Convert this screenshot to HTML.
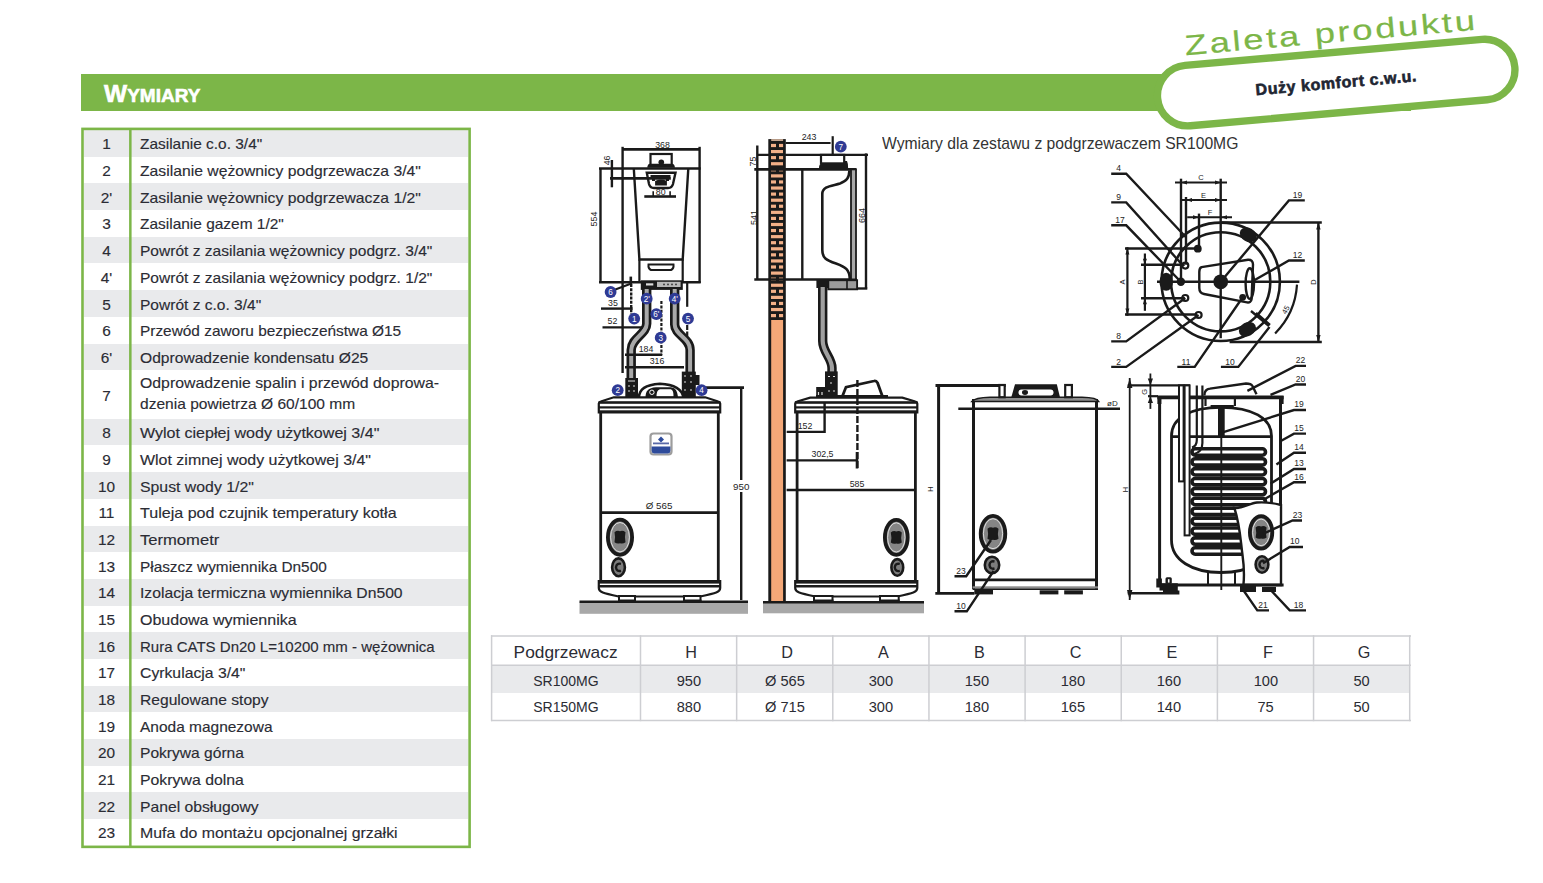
<!DOCTYPE html>
<html><head><meta charset="utf-8">
<style>
html,body{margin:0;padding:0;}
body{width:1543px;height:883px;overflow:hidden;background:#fff;position:relative;font-family:"Liberation Sans",sans-serif;color:#2b2c34;}
.bar{position:absolute;left:81px;top:73.8px;width:1330px;height:37.6px;background:#7cb648;}
.bar .tt{position:absolute;left:23px;top:6.3px;color:#fff;font-weight:bold;font-size:24.5px;letter-spacing:0px;white-space:nowrap;-webkit-text-stroke:0.6px #fff;}
.bar .tt small{font-size:19px;}
.lt{position:absolute;left:81.2px;top:127.7px;width:389.7px;height:720.3px;box-sizing:border-box;border:2.6px solid #7cb648;}
.dv{position:absolute;left:129.1px;top:128px;width:2.5px;height:719px;background:#7cb648;}
.r{position:absolute;left:83.8px;width:384.5px;-webkit-text-stroke:0.15px #2b2c34;}
.r.g{background:#e9eaec;}
.r .n{position:absolute;left:0;width:45.3px;top:50%;transform:translateY(-50%);text-align:center;font-size:15.4px;line-height:21px;}
.r .t{position:absolute;left:56.3px;top:50%;font-size:15px;line-height:21px;white-space:nowrap;transform-origin:0 50%;}
.r .t2{position:absolute;left:56.3px;font-size:15px;line-height:21px;white-space:nowrap;transform-origin:0 0;margin-top:-8px;}
.bg{position:absolute;background:#e9eaec;}
.vl{position:absolute;top:635.2px;width:1.5px;height:86px;background:#cdced2;}
.hl{position:absolute;left:491px;width:920px;height:1.5px;background:#cdced2;}
.c{position:absolute;text-align:center;white-space:nowrap;line-height:20px;}
.c.h{font-size:16.2px;}
.c.d{font-size:15.4px;}
.c span{display:inline-block;}
svg.d{position:absolute;left:0;top:0;}
.ttl{position:absolute;left:881.8px;top:134px;font-size:17px;line-height:20px;white-space:nowrap;transform-origin:0 0;transform:scaleX(0.9226);color:#333;}
</style></head><body>
<div class="bar"><div class="tt">W<small>YMIARY</small></div></div>
<div class="ttl">Wymiary dla zestawu z podgrzewaczem SR100MG</div>
<svg class="pill" width="1543" height="160" viewBox="0 0 1543 160" style="position:absolute;left:0;top:0" font-family="Liberation Sans, sans-serif">
<g transform="translate(1336.2,82.6) rotate(-5)">
<rect x="-179.3" y="-30.3" width="358.6" height="60.6" rx="30.3" fill="#fff" stroke="#7cb648" stroke-width="7.4"/>
<text x="0" y="5.6" text-anchor="middle" font-size="16" font-weight="bold" letter-spacing="0.6" fill="#202532" stroke="#202532" stroke-width="0.6">Duży komfort c.w.u.</text>
<text x="-147.7" y="-40.5" font-size="28" fill="#7cb648" stroke="#7cb648" stroke-width="0.2" transform="translate(-147.7,0) scale(1.3,1) translate(147.7,0)" letter-spacing="2.1">Zaleta produktu</text>
</g></svg>
<div class="r g" style="top:130.10px;height:26.68px"><div class="n">1</div><div class="t" style="transform:translateY(-50%) scaleX(1.0293)">Zasilanie c.o. 3/4"</div></div>
<div class="r w" style="top:156.78px;height:26.68px"><div class="n">2</div><div class="t" style="transform:translateY(-50%) scaleX(1.0483)">Zasilanie wężownicy podgrzewacza 3/4"</div></div>
<div class="r g" style="top:183.46px;height:26.68px"><div class="n">2'</div><div class="t" style="transform:translateY(-50%) scaleX(1.0483)">Zasilanie wężownicy podgrzewacza 1/2"</div></div>
<div class="r w" style="top:210.14px;height:26.68px"><div class="n">3</div><div class="t" style="transform:translateY(-50%) scaleX(1.0302)">Zasilanie gazem 1/2"</div></div>
<div class="r g" style="top:236.82px;height:26.68px"><div class="n">4</div><div class="t" style="transform:translateY(-50%) scaleX(1.0364)">Powrót z zasilania wężownicy podgrz. 3/4"</div></div>
<div class="r w" style="top:263.50px;height:26.68px"><div class="n">4'</div><div class="t" style="transform:translateY(-50%) scaleX(1.0364)">Powrót z zasilania wężownicy podgrz. 1/2"</div></div>
<div class="r g" style="top:290.18px;height:26.68px"><div class="n">5</div><div class="t" style="transform:translateY(-50%) scaleX(1.0355)">Powrót z c.o. 3/4"</div></div>
<div class="r w" style="top:316.86px;height:26.68px"><div class="n">6</div><div class="t" style="transform:translateY(-50%) scaleX(1.0271)">Przewód zaworu bezpieczeństwa Ø15</div></div>
<div class="r g" style="top:343.54px;height:26.68px"><div class="n">6'</div><div class="t" style="transform:translateY(-50%) scaleX(1.0409)">Odprowadzenie kondensatu Ø25</div></div>
<div class="r w" style="top:370.22px;height:48.60px"><div class="n">7</div><div class="t2" style="top:10px;transform:scaleX(1.0547)">Odprowadzenie spalin i przewód doprowa-</div><div class="t2" style="top:31px;transform:scaleX(1.0366)">dzenia powietrza Ø 60/100 mm</div></div>
<div class="r g" style="top:418.82px;height:26.68px"><div class="n">8</div><div class="t" style="transform:translateY(-50%) scaleX(1.0705)">Wylot ciepłej wody użytkowej 3/4"</div></div>
<div class="r w" style="top:445.50px;height:26.68px"><div class="n">9</div><div class="t" style="transform:translateY(-50%) scaleX(1.0641)">Wlot zimnej wody użytkowej 3/4"</div></div>
<div class="r g" style="top:472.18px;height:26.68px"><div class="n">10</div><div class="t" style="transform:translateY(-50%) scaleX(1.0548)">Spust wody 1/2"</div></div>
<div class="r w" style="top:498.86px;height:26.68px"><div class="n">11</div><div class="t" style="transform:translateY(-50%) scaleX(1.0711)">Tuleja pod czujnik temperatury kotła</div></div>
<div class="r g" style="top:525.54px;height:26.68px"><div class="n">12</div><div class="t" style="transform:translateY(-50%) scaleX(1.1062)">Termometr</div></div>
<div class="r w" style="top:552.22px;height:26.68px"><div class="n">13</div><div class="t" style="transform:translateY(-50%) scaleX(1.0226)">Płaszcz wymiennika Dn500</div></div>
<div class="r g" style="top:578.90px;height:26.68px"><div class="n">14</div><div class="t" style="transform:translateY(-50%) scaleX(1.0464)">Izolacja termiczna wymiennika Dn500</div></div>
<div class="r w" style="top:605.58px;height:26.68px"><div class="n">15</div><div class="t" style="transform:translateY(-50%) scaleX(1.0671)">Obudowa wymiennika</div></div>
<div class="r g" style="top:632.26px;height:26.68px"><div class="n">16</div><div class="t" style="transform:translateY(-50%) scaleX(1.0006)">Rura CATS Dn20 L=10200 mm - wężownica</div></div>
<div class="r w" style="top:658.94px;height:26.68px"><div class="n">17</div><div class="t" style="transform:translateY(-50%) scaleX(1.0501)">Cyrkulacja 3/4"</div></div>
<div class="r g" style="top:685.62px;height:26.68px"><div class="n">18</div><div class="t" style="transform:translateY(-50%) scaleX(1.042)">Regulowane stopy</div></div>
<div class="r w" style="top:712.30px;height:26.68px"><div class="n">19</div><div class="t" style="transform:translateY(-50%) scaleX(1.0316)">Anoda magnezowa</div></div>
<div class="r g" style="top:738.98px;height:26.68px"><div class="n">20</div><div class="t" style="transform:translateY(-50%) scaleX(1.0384)">Pokrywa górna</div></div>
<div class="r w" style="top:765.66px;height:26.68px"><div class="n">21</div><div class="t" style="transform:translateY(-50%) scaleX(1.056)">Pokrywa dolna</div></div>
<div class="r g" style="top:792.34px;height:26.68px"><div class="n">22</div><div class="t" style="transform:translateY(-50%) scaleX(1.0465)">Panel obsługowy</div></div>
<div class="r w" style="top:819.02px;height:26.68px"><div class="n">23</div><div class="t" style="transform:translateY(-50%) scaleX(1.058)">Mufa do montażu opcjonalnej grzałki</div></div>
<div class="bg" style="left:491.6px;top:665.5px;width:918.8px;height:27.2px"></div>
<div class="c h" style="left:491.60px;width:148.90px;top:642.4px"><span style="transform:scaleX(1.07)">Podgrzewacz</span></div>
<div class="c d" style="left:491.60px;width:148.90px;top:670.9px"><span style="transform:scaleX(0.91)">SR100MG</span></div>
<div class="c d" style="left:491.60px;width:148.90px;top:696.8px"><span style="transform:scaleX(0.91)">SR150MG</span></div>
<div class="c h" style="left:643.00px;width:96.15px;top:642.4px"><span style="transform:scaleX(1.0)">H</span></div>
<div class="c d" style="left:640.50px;width:96.15px;top:670.9px"><span style="transform:scaleX(0.95)">950</span></div>
<div class="c d" style="left:640.50px;width:96.15px;top:696.8px"><span style="transform:scaleX(0.95)">880</span></div>
<div class="c h" style="left:739.15px;width:96.15px;top:642.4px"><span style="transform:scaleX(1.0)">D</span></div>
<div class="c d" style="left:736.65px;width:96.15px;top:670.9px"><span style="transform:scaleX(0.95)">Ø 565</span></div>
<div class="c d" style="left:736.65px;width:96.15px;top:696.8px"><span style="transform:scaleX(0.95)">Ø 715</span></div>
<div class="c h" style="left:835.30px;width:96.15px;top:642.4px"><span style="transform:scaleX(1.0)">A</span></div>
<div class="c d" style="left:832.80px;width:96.15px;top:670.9px"><span style="transform:scaleX(0.95)">300</span></div>
<div class="c d" style="left:832.80px;width:96.15px;top:696.8px"><span style="transform:scaleX(0.95)">300</span></div>
<div class="c h" style="left:931.45px;width:96.15px;top:642.4px"><span style="transform:scaleX(1.0)">B</span></div>
<div class="c d" style="left:928.95px;width:96.15px;top:670.9px"><span style="transform:scaleX(0.95)">150</span></div>
<div class="c d" style="left:928.95px;width:96.15px;top:696.8px"><span style="transform:scaleX(0.95)">180</span></div>
<div class="c h" style="left:1027.60px;width:96.15px;top:642.4px"><span style="transform:scaleX(1.0)">C</span></div>
<div class="c d" style="left:1025.10px;width:96.15px;top:670.9px"><span style="transform:scaleX(0.95)">180</span></div>
<div class="c d" style="left:1025.10px;width:96.15px;top:696.8px"><span style="transform:scaleX(0.95)">165</span></div>
<div class="c h" style="left:1123.75px;width:96.15px;top:642.4px"><span style="transform:scaleX(1.0)">E</span></div>
<div class="c d" style="left:1121.25px;width:96.15px;top:670.9px"><span style="transform:scaleX(0.95)">160</span></div>
<div class="c d" style="left:1121.25px;width:96.15px;top:696.8px"><span style="transform:scaleX(0.95)">140</span></div>
<div class="c h" style="left:1219.90px;width:96.15px;top:642.4px"><span style="transform:scaleX(1.0)">F</span></div>
<div class="c d" style="left:1217.40px;width:96.15px;top:670.9px"><span style="transform:scaleX(0.95)">100</span></div>
<div class="c d" style="left:1217.40px;width:96.15px;top:696.8px"><span style="transform:scaleX(0.95)">75</span></div>
<div class="c h" style="left:1316.05px;width:96.15px;top:642.4px"><span style="transform:scaleX(1.0)">G</span></div>
<div class="c d" style="left:1313.55px;width:96.15px;top:670.9px"><span style="transform:scaleX(0.95)">50</span></div>
<div class="c d" style="left:1313.55px;width:96.15px;top:696.8px"><span style="transform:scaleX(0.95)">50</span></div>
<svg class="d" width="1543" height="883" viewBox="0 0 1543 883" font-family="Liberation Sans, sans-serif">
<line x1="622.6" y1="149.4" x2="699.6" y2="149.4" stroke="#1a1a1a" stroke-width="2.8" />
<text x="662.5" y="148.3" font-size="8.8" text-anchor="middle" fill="#242424" >368</text>
<line x1="622.6" y1="146.8" x2="622.6" y2="373" stroke="#1a1a1a" stroke-width="2.4" />
<line x1="699.6" y1="146.8" x2="699.6" y2="283" stroke="#1a1a1a" stroke-width="2.4" />
<line x1="599" y1="168.5" x2="700.7" y2="168.5" stroke="#1a1a1a" stroke-width="2.6" />
<line x1="600.5" y1="168.5" x2="600.5" y2="283" stroke="#1a1a1a" stroke-width="2.4" />
<line x1="599" y1="282.3" x2="700.7" y2="282.3" stroke="#1a1a1a" stroke-width="2.4" />
<path d="M633.8,168.5 L639.4,259.5 L682.7,259.5 L688.3,168.5" fill="none" stroke="#1a1a1a" stroke-width="2.4" />
<line x1="639.4" y1="259.5" x2="639.4" y2="282.3" stroke="#1a1a1a" stroke-width="2.2" />
<line x1="682.7" y1="259.5" x2="682.7" y2="282.3" stroke="#1a1a1a" stroke-width="2.2" />
<path d="M648.5,264.5 h25 q0.5,4 -2.5,5.5 h-20 q-3,-1.5 -2.5,-5.5z" fill="#fff" stroke="#1a1a1a" stroke-width="2" />
<rect x="650.5" y="154" width="21.2" height="11.5" fill="#fff" stroke="#1a1a1a" stroke-width="2.2" />
<path d="M647.3,167.8 Q647.3,164 650,163.7 L672,163.7 Q674.9,164 674.9,167.8z" fill="#1a1a1a" stroke="#1a1a1a" stroke-width="0" />
<circle cx="661.3" cy="162.2" r="2.8" fill="#1a1a1a"/>
<path d="M646.8,172.8 L675.5,172.8 L673,184 Q672,188 668,188 L654,188 Q650,188 649,184z" fill="#fff" stroke="#1a1a1a" stroke-width="2.4" />
<path d="M650.5,176 h20 M652,180 h3 M666,180 h3 M656,181.5 q5,-2 10,0 v3 h-10z" fill="#1a1a1a" stroke="#1a1a1a" stroke-width="1.8" />
<line x1="611.9" y1="160" x2="611.9" y2="187.3" stroke="#1a1a1a" stroke-width="2.4" />
<line x1="610" y1="178.4" x2="670.8" y2="178.4" stroke="#1a1a1a" stroke-width="2.6" />
<text x="610.5" y="160.4" font-size="8.8" text-anchor="middle" fill="#242424" transform="rotate(-90 610.5 160.4)" >46</text>
<line x1="644.3" y1="196.5" x2="676" y2="196.5" stroke="#1a1a1a" stroke-width="2.6" />
<line x1="653.2" y1="191.3" x2="653.2" y2="196.5" stroke="#1a1a1a" stroke-width="1.6" />
<line x1="670.1" y1="191.3" x2="670.1" y2="196.5" stroke="#1a1a1a" stroke-width="1.6" />
<text x="660.7" y="194.6" font-size="8.8" text-anchor="middle" fill="#242424" >80</text>
<text x="596.8" y="219" font-size="9" text-anchor="middle" fill="#242424" transform="rotate(-90 596.8 219)" >554</text>
<rect x="640.8" y="280.3" width="42" height="9.6" fill="#1a1a1a" />
<rect x="657" y="281.8" width="23.6" height="5.2" fill="#b8b8b8" />
<rect x="646" y="283.3" width="7.3" height="2.2" fill="#ddd" />
<circle cx="664" cy="284.4" r="0.9" fill="#333"/>
<circle cx="668" cy="284.4" r="0.9" fill="#333"/>
<circle cx="672" cy="284.4" r="0.9" fill="#333"/>
<circle cx="676" cy="284.4" r="0.9" fill="#333"/>
<rect x="629.5" y="276.6" width="2.6" height="8" fill="#1a1a1a" />
<line x1="631.2" y1="284" x2="631.2" y2="314" stroke="#1a1a1a" stroke-width="2.4" stroke-dasharray="3 1.2"/>
<line x1="614" y1="290" x2="630" y2="284" stroke="#1a1a1a" stroke-width="2" />
<line x1="687.2" y1="283" x2="687.2" y2="306.8" stroke="#1a1a1a" stroke-width="2.2" />
<line x1="687.2" y1="325" x2="687.2" y2="372" stroke="#1a1a1a" stroke-width="2.2" stroke-dasharray="5 1.5"/>
<line x1="661.4" y1="301" x2="661.4" y2="355.4" stroke="#1a1a1a" stroke-width="2.2" stroke-dasharray="3 1.4"/>
<path d="M646.7,289 L646.7,323.8 C646.7,334 631.2,338 631.2,350 L631.2,380" fill="none" stroke="#1a1a1a" stroke-width="9.4" />
<path d="M646.7,289 L646.7,323.8 C646.7,334 631.2,338 631.2,350 L631.2,380" fill="none" stroke="#a9a9a9" stroke-width="4" />
<path d="M674.7,289 L674.7,324.5 C674.7,335 690.1,338 690.1,350 L690.1,373" fill="none" stroke="#1a1a1a" stroke-width="9.4" />
<path d="M674.7,289 L674.7,324.5 C674.7,335 690.1,338 690.1,350 L690.1,373" fill="none" stroke="#a9a9a9" stroke-width="4" />
<rect x="625.3" y="378" width="12.7" height="19.7" fill="#1a1a1a" />
<path d="M628,381 h7 M628,386 h2 M633,386 h2 M628,391 h2 M633,391 h2" fill="none" stroke="#ddd" stroke-width="1.2" />
<rect x="681.8" y="371.6" width="14" height="26" fill="#1a1a1a" />
<rect x="695" y="375" width="4.5" height="10" fill="#1a1a1a" />
<path d="M684,376 h2 M690,376 h2 M684,382 h2 M690,382 h2 M684,390 h2 M690,390 h2" fill="none" stroke="#ddd" stroke-width="1.2" />
<line x1="601" y1="308.6" x2="632.7" y2="308.6" stroke="#1a1a1a" stroke-width="2.4" />
<text x="613" y="305.5" font-size="8.8" text-anchor="middle" fill="#242424" >35</text>
<line x1="602.5" y1="327.4" x2="643" y2="327.4" stroke="#1a1a1a" stroke-width="2.4" />
<text x="612.5" y="324.3" font-size="8.8" text-anchor="middle" fill="#242424" >52</text>
<line x1="625" y1="354.7" x2="662" y2="354.7" stroke="#1a1a1a" stroke-width="2.4" />
<text x="646" y="351.6" font-size="8.8" text-anchor="middle" fill="#242424" >184</text>
<line x1="625" y1="367.2" x2="684" y2="367.2" stroke="#1a1a1a" stroke-width="2.4" />
<text x="657" y="364.1" font-size="8.8" text-anchor="middle" fill="#242424" >316</text>
<path d="M638.8,397.7 C639.5,389 645,385 660,383.8 C675,384.5 682,389 683.5,397.7" fill="#fff" stroke="#1a1a1a" stroke-width="2.6" />
<path d="M645.5,397.7 C645.5,391 648,388 656,387.3 L671,387.3 C676,388 677.5,392 678,397.7z" fill="#1a1a1a" stroke="#1a1a1a" stroke-width="0" />
<path d="M656.5,396.5 C656.5,391.5 658,389.3 661,389.3 L670,389.3 C672.5,389.3 673.5,391.5 673.5,396.5z" fill="#fff" stroke="#1a1a1a" stroke-width="0" />
<circle cx="651.9" cy="392.3" r="2.2" fill="none" stroke="#fff" stroke-width="1"/>
<path d="M598.8,412.5 L598.8,403.5 Q598.8,402 600.8,401.5 L613.8,397.3 L705.2,397.3 L718.2,401.5 Q720.2,402 720.2,403.5 L720.2,412.5z" fill="#fff" stroke="#1a1a1a" stroke-width="2.2" />
<rect x="598.8" y="401.2" width="121.40000000000009" height="2.6" fill="#1a1a1a" />
<rect x="598.8" y="406.3" width="121.40000000000009" height="2.2" fill="#1a1a1a" />
<rect x="598.8" y="410.3" width="121.40000000000009" height="2.4" fill="#1a1a1a" />
<line x1="600.6999999999999" y1="412" x2="600.6999999999999" y2="581" stroke="#1a1a1a" stroke-width="2.8" />
<line x1="718.3000000000001" y1="412" x2="718.3000000000001" y2="581" stroke="#1a1a1a" stroke-width="2.8" />
<path d="M598.8,581 L720.2,581 L720.2,588 C720.2,592 716.2,593 700.2,596.5 L618.8,596.5 C602.8,593 598.8,592 598.8,588z" fill="#fff" stroke="#1a1a1a" stroke-width="2.2" />
<rect x="598.8" y="580.8" width="121.40000000000009" height="2.8" fill="#1a1a1a" />
<rect x="598.8" y="585" width="121.40000000000009" height="2.5" fill="#1a1a1a" />
<!-- feet -->
<rect x="619" y="596" width="16" height="5.5" fill="#fff" stroke="#1a1a1a" stroke-width="2" />
<rect x="684" y="596" width="16.5" height="5.5" fill="#fff" stroke="#1a1a1a" stroke-width="2" />
<rect x="618" y="599.5" width="18" height="2.5" fill="#1a1a1a" />
<rect x="683" y="599.5" width="18.5" height="2.5" fill="#1a1a1a" />
<rect x="579.5" y="602.5" width="168.5" height="11.3" fill="#a8a8a8" />
<line x1="579.5" y1="601.8" x2="748" y2="601.8" stroke="#1a1a1a" stroke-width="2.6" />
<rect x="650.5" y="433.5" width="21" height="21" rx="3" fill="#fff" stroke="#9d9d9d" stroke-width="2.2"/>
<path d="M651.6,446.5 h18.8 v4.5 q0,2.4 -2.4,2.4 h-14 q-2.4,0 -2.4,-2.4z" fill="#2e4b9b"/>
<path d="M661,436.5 l3,3 -3,3 -3,-3z" fill="#2e4b9b"/>
<rect x="653" y="442.5" width="16" height="1.8" fill="#5a6aa8"/>
<ellipse cx="620" cy="537.2" rx="12.1" ry="17.6" fill="#858585" stroke="#1a1a1a" stroke-width="3.8"/>
<ellipse cx="620" cy="537.2" rx="9.4" ry="14.7" fill="none" stroke="#e8e8e8" stroke-width="0.9"/>
<path d="M614.5,532.2 q2.5,-2 5.5,-1 q3,-1 5.5,1 q-1.2,5 0,10 q-2.5,2 -5.5,1 q-3,1 -5.5,-1 q1.2,-5 0,-10z" fill="#1a1a1a"/>
<ellipse cx="618.5" cy="567.3" rx="6.4" ry="8.899999999999999" fill="#7d7d7d" stroke="#1a1a1a" stroke-width="2.6"/>
<path d="M621.0,563.8 q-4.5,-1 -5,3.5 q0.5,4.5 5,3.5" fill="none" stroke="#1a1a1a" stroke-width="2.4"/>
<line x1="703" y1="387.6" x2="744" y2="387.6" stroke="#1a1a1a" stroke-width="2.6" />
<line x1="741.2" y1="387.6" x2="741.2" y2="600" stroke="#1a1a1a" stroke-width="2.4" />
<rect x="733" y="480" width="17" height="12" fill="#fff" />
<text x="741.2" y="490.3" font-size="9.8" text-anchor="middle" fill="#242424" >950</text>
<line x1="601" y1="512.6" x2="718.5" y2="512.6" stroke="#1a1a1a" stroke-width="2.7" />
<text x="659" y="508.5" font-size="9.8" text-anchor="middle" fill="#242424" >Ø 565</text>
<circle cx="610.6" cy="292" r="5.9" fill="#2f3a94"/>
<text x="610.6" y="294.952" font-size="8.2" text-anchor="middle" fill="#fff">6</text>
<circle cx="646.7" cy="298.7" r="5.9" fill="#2f3a94"/>
<text x="646.7" y="301.652" font-size="8.2" text-anchor="middle" fill="#fff">2'</text>
<circle cx="674.7" cy="298.7" r="5.9" fill="#2f3a94"/>
<text x="674.7" y="301.652" font-size="8.2" text-anchor="middle" fill="#fff">4'</text>
<circle cx="634.2" cy="318.6" r="5.9" fill="#2f3a94"/>
<text x="634.2" y="321.552" font-size="8.2" text-anchor="middle" fill="#fff">1</text>
<circle cx="656.3" cy="314.2" r="5.9" fill="#2f3a94"/>
<text x="656.3" y="317.152" font-size="8.2" text-anchor="middle" fill="#fff">6'</text>
<circle cx="688" cy="318.6" r="5.9" fill="#2f3a94"/>
<text x="688" y="321.552" font-size="8.2" text-anchor="middle" fill="#fff">5</text>
<circle cx="660.7" cy="337.7" r="5.9" fill="#2f3a94"/>
<text x="660.7" y="340.652" font-size="8.2" text-anchor="middle" fill="#fff">3</text>
<circle cx="617.7" cy="390.2" r="5.9" fill="#2f3a94"/>
<text x="617.7" y="393.152" font-size="8.2" text-anchor="middle" fill="#fff">2</text>
<circle cx="701.6" cy="390.2" r="5.9" fill="#2f3a94"/>
<text x="701.6" y="393.152" font-size="8.2" text-anchor="middle" fill="#fff">4</text>
<rect x="768.3" y="139.1" width="17.5" height="462" fill="#1a1a1a" />
<rect x="771.2" y="320" width="11.9" height="281" fill="#f4a878" />
<rect x="771.2" y="139.3" width="11.9" height="1.5" fill="#f1c9ad" />
<rect x="771" y="143.9" width="5" height="3.2" fill="#f2b088" />
<rect x="779" y="143.9" width="4.1" height="3.2" fill="#f2b088" />
<rect x="771" y="156.05" width="5" height="3.2" fill="#f2b088" />
<rect x="779" y="156.05" width="4.1" height="3.2" fill="#f2b088" />
<rect x="771" y="168.2" width="5" height="3.2" fill="#f2b088" />
<rect x="779" y="168.2" width="4.1" height="3.2" fill="#f2b088" />
<rect x="771" y="180.35" width="5" height="3.2" fill="#f2b088" />
<rect x="779" y="180.35" width="4.1" height="3.2" fill="#f2b088" />
<rect x="771" y="192.5" width="5" height="3.2" fill="#f2b088" />
<rect x="779" y="192.5" width="4.1" height="3.2" fill="#f2b088" />
<rect x="771" y="204.65" width="5" height="3.2" fill="#f2b088" />
<rect x="779" y="204.65" width="4.1" height="3.2" fill="#f2b088" />
<rect x="771" y="216.8" width="5" height="3.2" fill="#f2b088" />
<rect x="779" y="216.8" width="4.1" height="3.2" fill="#f2b088" />
<rect x="771" y="228.95" width="5" height="3.2" fill="#f2b088" />
<rect x="779" y="228.95" width="4.1" height="3.2" fill="#f2b088" />
<rect x="771" y="241.1" width="5" height="3.2" fill="#f2b088" />
<rect x="779" y="241.1" width="4.1" height="3.2" fill="#f2b088" />
<rect x="771" y="253.25" width="5" height="3.2" fill="#f2b088" />
<rect x="779" y="253.25" width="4.1" height="3.2" fill="#f2b088" />
<rect x="771" y="265.4" width="5" height="3.2" fill="#f2b088" />
<rect x="779" y="265.4" width="4.1" height="3.2" fill="#f2b088" />
<rect x="771" y="277.55" width="5" height="3.2" fill="#f2b088" />
<rect x="779" y="277.55" width="4.1" height="3.2" fill="#f2b088" />
<rect x="771" y="289.7" width="5" height="3.2" fill="#f2b088" />
<rect x="779" y="289.7" width="4.1" height="3.2" fill="#f2b088" />
<rect x="771" y="301.85" width="5" height="3.2" fill="#f2b088" />
<rect x="779" y="301.85" width="4.1" height="3.2" fill="#f2b088" />
<rect x="771" y="314.0" width="5" height="3.2" fill="#f2b088" />
<rect x="779" y="314.0" width="4.1" height="3.2" fill="#f2b088" />
<rect x="771" y="150.0" width="12" height="3.2" fill="#f2b088" />
<rect x="771" y="162.15" width="12" height="3.2" fill="#f2b088" />
<rect x="771" y="174.3" width="12" height="3.2" fill="#f2b088" />
<rect x="771" y="186.45" width="12" height="3.2" fill="#f2b088" />
<rect x="771" y="198.6" width="12" height="3.2" fill="#f2b088" />
<rect x="771" y="210.75" width="12" height="3.2" fill="#f2b088" />
<rect x="771" y="222.9" width="12" height="3.2" fill="#f2b088" />
<rect x="771" y="235.05" width="12" height="3.2" fill="#f2b088" />
<rect x="771" y="247.2" width="12" height="3.2" fill="#f2b088" />
<rect x="771" y="259.35" width="12" height="3.2" fill="#f2b088" />
<rect x="771" y="271.5" width="12" height="3.2" fill="#f2b088" />
<rect x="771" y="283.65" width="12" height="3.2" fill="#f2b088" />
<rect x="771" y="295.8" width="12" height="3.2" fill="#f2b088" />
<rect x="771" y="307.95" width="12" height="3.2" fill="#f2b088" />
<line x1="785.6" y1="143" x2="830.6" y2="143" stroke="#1a1a1a" stroke-width="2.2" />
<line x1="832.7" y1="136.2" x2="832.7" y2="155" stroke="#1a1a1a" stroke-width="2.2" />
<text x="809" y="140.2" font-size="8.8" text-anchor="middle" fill="#242424" >243</text>
<line x1="757" y1="154.9" x2="868" y2="154.9" stroke="#1a1a1a" stroke-width="2.4" />
<line x1="757.3" y1="145.5" x2="757.3" y2="280" stroke="#1a1a1a" stroke-width="2.4" />
<text x="756" y="161.5" font-size="8.8" text-anchor="middle" fill="#242424" transform="rotate(-90 756 161.5)" >75</text>
<text x="756.5" y="217.5" font-size="9" text-anchor="middle" fill="#242424" transform="rotate(-90 756.5 217.5)" >541</text>
<rect x="821" y="154.9" width="23.2" height="8.5" fill="#fff" stroke="#1a1a1a" stroke-width="2.2" />
<path d="M819,168 Q819,163.4 822,163.4 L844,163.4 L844,161 L847,161 Q848.1,163 848.1,168z" fill="#1a1a1a" stroke="#1a1a1a" stroke-width="0" />
<line x1="754.3" y1="169.4" x2="856.3" y2="169.4" stroke="#1a1a1a" stroke-width="2.6" />
<line x1="754.3" y1="279.5" x2="857" y2="279.5" stroke="#1a1a1a" stroke-width="2.6" />
<line x1="802.3" y1="169.4" x2="802.3" y2="279.5" stroke="#1a1a1a" stroke-width="2.4" />
<path d="M849.5,170.4 C849,178 847,181 840,183.5 C832,186 822.3,186 822.3,194 L822.3,250 C822.3,258 826,260 836,263.5 C846,267 849.5,270 849.8,279" fill="none" stroke="#1a1a1a" stroke-width="2.6" />
<rect x="851" y="169.4" width="5" height="110" fill="#a8a8a8" stroke="#1a1a1a" stroke-width="1.8" />
<rect x="828.3" y="280.2" width="28.8" height="9.1" fill="#9c9c9c" stroke="#1a1a1a" stroke-width="1.9" />
<line x1="847" y1="280.2" x2="847" y2="289.3" stroke="#1a1a1a" stroke-width="1.6" />
<rect x="816.4" y="280" width="11.9" height="8" fill="#1a1a1a" />
<line x1="866" y1="153.4" x2="866" y2="288.5" stroke="#1a1a1a" stroke-width="2.4" />
<line x1="858" y1="288.5" x2="867.3" y2="288.5" stroke="#1a1a1a" stroke-width="2.4" />
<text x="865.3" y="215.4" font-size="9" text-anchor="middle" fill="#242424" transform="rotate(-90 865.3 215.4)" >664</text>
<circle cx="840.8" cy="146.7" r="5.9" fill="#2f3a94"/>
<text x="840.8" y="149.652" font-size="8.2" text-anchor="middle" fill="#fff">7</text>
<path d="M822.7,287 L822.7,341 C822.7,352 832,358 832,368 L832,376" fill="none" stroke="#1a1a1a" stroke-width="9.4" />
<path d="M822.7,287 L822.7,341 C822.7,352 832,358 832,368 L832,376" fill="none" stroke="#a0a0a0" stroke-width="4.2" />
<rect x="825" y="371.4" width="12.7" height="26.2" fill="#1a1a1a" />
<rect x="816.2" y="387" width="9" height="10.6" fill="#1a1a1a" />
<path d="M828,376.5 h2 M833,376.5 h2 M830,383 h2 M828,391 h2 M833,391 h2 M818.5,392 v3 M822,392 v3" fill="none" stroke="#ddd" stroke-width="1.2" />
<path d="M842.5,396 L846,387.1 L874,381 Q876,380.5 877.5,382.7 L882.3,396" fill="none" stroke="#1a1a1a" stroke-width="2.8" />
<rect x="816" y="395" width="72" height="3.5" fill="#1a1a1a" />
<path d="M795.2,412.5 L795.2,403.5 Q795.2,402 797.2,401.5 L810.2,397.6 L902.3,397.6 L915.3,401.5 Q917.3,402 917.3,403.5 L917.3,412.5z" fill="#fff" stroke="#1a1a1a" stroke-width="2.2" />
<rect x="795.2" y="401.2" width="122.09999999999991" height="2.6" fill="#1a1a1a" />
<rect x="795.2" y="406.3" width="122.09999999999991" height="2.2" fill="#1a1a1a" />
<rect x="795.2" y="410.3" width="122.09999999999991" height="2.4" fill="#1a1a1a" />
<line x1="797.1" y1="412" x2="797.1" y2="581" stroke="#1a1a1a" stroke-width="2.8" />
<line x1="915.4" y1="412" x2="915.4" y2="581" stroke="#1a1a1a" stroke-width="2.8" />
<path d="M795.2,581 L917.3,581 L917.3,588 C917.3,592 913.3,593 897.3,596.5 L815.2,596.5 C799.2,593 795.2,592 795.2,588z" fill="#fff" stroke="#1a1a1a" stroke-width="2.2" />
<rect x="795.2" y="580.8" width="122.09999999999991" height="2.8" fill="#1a1a1a" />
<rect x="795.2" y="585" width="122.09999999999991" height="2.5" fill="#1a1a1a" />
<line x1="857.4" y1="380" x2="857.4" y2="470" stroke="#1a1a1a" stroke-width="2.4" stroke-dasharray="7 2"/>
<line x1="824.6" y1="402" x2="824.6" y2="433" stroke="#1a1a1a" stroke-width="2.4" />
<line x1="786.7" y1="431.9" x2="824.4" y2="431.9" stroke="#1a1a1a" stroke-width="2.4" />
<text x="805" y="428.8" font-size="8.8" text-anchor="middle" fill="#242424" >152</text>
<line x1="786.6" y1="460.4" x2="857" y2="460.4" stroke="#1a1a1a" stroke-width="2.4" />
<text x="822.5" y="457.3" font-size="8.8" text-anchor="middle" fill="#242424" >302,5</text>
<line x1="857" y1="452" x2="857" y2="468.5" stroke="#1a1a1a" stroke-width="2.6" />
<line x1="786.6" y1="490" x2="914.5" y2="490" stroke="#1a1a1a" stroke-width="2.6" />
<text x="857" y="486.8" font-size="8.8" text-anchor="middle" fill="#242424" >585</text>
<rect x="814" y="596" width="18.5" height="6" fill="#fff" stroke="#1a1a1a" stroke-width="2" />
<rect x="880" y="596" width="18.7" height="6" fill="#fff" stroke="#1a1a1a" stroke-width="2" />
<rect x="813" y="599.5" width="20.5" height="2.5" fill="#1a1a1a" />
<rect x="879" y="599.5" width="20.7" height="2.5" fill="#1a1a1a" />
<rect x="763" y="603" width="161" height="10.3" fill="#a8a8a8" />
<line x1="763" y1="602.2" x2="924" y2="602.2" stroke="#1a1a1a" stroke-width="2.6" />
<ellipse cx="896.3" cy="537.4" rx="11.4" ry="17.5" fill="#858585" stroke="#1a1a1a" stroke-width="3.8"/>
<ellipse cx="896.3" cy="537.4" rx="8.700000000000001" ry="14.599999999999998" fill="none" stroke="#e8e8e8" stroke-width="0.9"/>
<path d="M890.8,532.4 q2.5,-2 5.5,-1 q3,-1 5.5,1 q-1.2,5 0,10 q-2.5,2 -5.5,1 q-3,1 -5.5,-1 q1.2,-5 0,-10z" fill="#1a1a1a"/>
<ellipse cx="897.3" cy="567.4" rx="5.9" ry="8.299999999999999" fill="#7d7d7d" stroke="#1a1a1a" stroke-width="2.6"/>
<path d="M899.8,563.9 q-4.5,-1 -5,3.5 q0.5,4.5 5,3.5" fill="none" stroke="#1a1a1a" stroke-width="2.4"/>
<line x1="938.6" y1="384.2" x2="938.6" y2="593.3" stroke="#1a1a1a" stroke-width="3" />
<line x1="935.5" y1="385.5" x2="1005.7" y2="385.5" stroke="#1a1a1a" stroke-width="2.8" />
<line x1="935.3" y1="593.3" x2="974.3" y2="593.3" stroke="#1a1a1a" stroke-width="2.8" />
<text x="933" y="489" font-size="8" text-anchor="middle" fill="#242424" transform="rotate(-90 933 489)" >H</text>
<rect x="973.5" y="399" width="123" height="190" fill="#fff" />
<line x1="973.5" y1="399" x2="973.5" y2="589" stroke="#1a1a1a" stroke-width="3" />
<line x1="1096.5" y1="399" x2="1096.5" y2="589" stroke="#1a1a1a" stroke-width="3" />
<path d="M971.9,401.5 Q975,397.5 990,397.2 L1082,397.2 Q1097,397.5 1098.7,401.5z" fill="#8c8c8c" stroke="#1a1a1a" stroke-width="1.6" />
<line x1="958.3" y1="408.8" x2="1120" y2="408.8" stroke="#1a1a1a" stroke-width="2.6" />
<rect x="1106" y="399" width="13" height="7" fill="#fff" />
<text x="1107" y="405.8" font-size="8" text-anchor="start" fill="#242424" >øD</text>
<line x1="972.6" y1="579.9" x2="1098" y2="579.9" stroke="#1a1a1a" stroke-width="2.6" />
<rect x="972.6" y="586.3" width="125.4" height="2.4" fill="#8c8c8c" />
<line x1="972.6" y1="589.2" x2="1098" y2="589.2" stroke="#1a1a1a" stroke-width="1.6" />
<rect x="974.3" y="589.8" width="18.7" height="4.6" fill="#1a1a1a" />
<rect x="1039.7" y="590.3" width="18.7" height="4.1" fill="#1a1a1a" />
<rect x="1064.2" y="590.3" width="18.7" height="4.1" fill="#1a1a1a" />
<rect x="999.4" y="385" width="5.3" height="12.2" fill="#fff" stroke="#1a1a1a" stroke-width="2.2" />
<rect x="1065.2" y="385" width="6.7" height="12.2" fill="#fff" stroke="#1a1a1a" stroke-width="2.2" />
<path d="M1011.3,397.2 L1015,384.2 L1056.8,384.2 L1060,397.2z" fill="#1a1a1a" stroke="#1a1a1a" stroke-width="0" />
<rect x="1018.5" y="389.5" width="35" height="6" rx="3" fill="#fff"/>
<ellipse cx="1025" cy="392.5" rx="3" ry="2.4" fill="#1a1a1a"/>
<ellipse cx="993" cy="533.7" rx="12.299999999999999" ry="17.900000000000002" fill="#858585" stroke="#1a1a1a" stroke-width="3.8"/>
<ellipse cx="993" cy="533.7" rx="9.6" ry="15.0" fill="none" stroke="#e8e8e8" stroke-width="0.9"/>
<path d="M987.5,528.7 q2.5,-2 5.5,-1 q3,-1 5.5,1 q-1.2,5 0,10 q-2.5,2 -5.5,1 q-3,1 -5.5,-1 q1.2,-5 0,-10z" fill="#1a1a1a"/>
<ellipse cx="992" cy="565" rx="7.2" ry="8.2" fill="#7d7d7d" stroke="#1a1a1a" stroke-width="2.6"/>
<path d="M994.5,561.5 q-4.5,-1 -5,3.5 q0.5,4.5 5,3.5" fill="none" stroke="#1a1a1a" stroke-width="2.4"/>
<path d="M954.5,576.3 L966.2,576.3 L991,540" fill="none" stroke="#1a1a1a" stroke-width="2.4" />
<path d="M954.5,611.3 L966.8,611.3 L993.6,571" fill="none" stroke="#1a1a1a" stroke-width="2.4" />
<text x="961" y="574" font-size="8.5" text-anchor="middle" fill="#242424" >23</text>
<text x="961" y="609" font-size="8.5" text-anchor="middle" fill="#242424" >10</text>
<line x1="1129.7" y1="378" x2="1129.7" y2="600" stroke="#1a1a1a" stroke-width="1.8" />
<path d="M1127,388 L1129.7,378 L1132.4,388z M1127,590 L1129.7,600 L1132.4,590z" fill="#1a1a1a" stroke="#1a1a1a" stroke-width="0" />
<line x1="1127.7" y1="385.4" x2="1190" y2="385.4" stroke="#1a1a1a" stroke-width="2.4" />
<line x1="1127.7" y1="593.2" x2="1163" y2="593.2" stroke="#1a1a1a" stroke-width="2.4" />
<text x="1128.5" y="489.6" font-size="8" text-anchor="middle" fill="#242424" transform="rotate(-90 1128.5 489.6)" >H</text>
<line x1="1150.4" y1="373.5" x2="1150.4" y2="408.9" stroke="#1a1a1a" stroke-width="1.8" />
<path d="M1147.8,378.5 L1150.4,385.4 L1153,378.5z M1147.8,403 L1150.4,396.2 L1153,403z" fill="#1a1a1a" stroke="#1a1a1a" stroke-width="0" />
<line x1="1148" y1="396.2" x2="1158" y2="396.2" stroke="#1a1a1a" stroke-width="2.2" />
<text x="1147" y="391.9" font-size="7.5" text-anchor="middle" fill="#242424" transform="rotate(-90 1147 391.9)" >G</text>
<rect x="1159.5" y="397.3" width="121.5" height="188" fill="#fff" />
<line x1="1159.6" y1="396" x2="1159.6" y2="585" stroke="#1a1a1a" stroke-width="3" />
<line x1="1280.5" y1="396" x2="1280.5" y2="585" stroke="#1a1a1a" stroke-width="3" />
<line x1="1157.4" y1="397.4" x2="1283.6" y2="397.4" stroke="#1a1a1a" stroke-width="3.8" />
<rect x="1157.4" y="396" width="4" height="8" fill="#1a1a1a" />
<rect x="1279.6" y="396" width="4" height="8" fill="#1a1a1a" />
<path d="M1204.4,395.4 C1204.4,391 1206,389 1210,388.6 L1246,383.5 Q1251,383.5 1252.5,386 L1256.5,394.3" fill="none" stroke="#1a1a1a" stroke-width="2.4" />
<line x1="1205.5" y1="399" x2="1205.5" y2="406" stroke="#1a1a1a" stroke-width="2.2" />
<line x1="1234.9" y1="399" x2="1234.9" y2="406" stroke="#1a1a1a" stroke-width="2.2" />
<path d="M1171.5,540 L1171.5,436 C1171.5,418 1190,407.3 1221,407.3 C1252,407.3 1271.5,418 1271.5,436 L1271.5,540 C1271.5,560 1250,572.5 1221,572.5 C1192,572.5 1171.5,560 1171.5,540z" fill="#fff" stroke="#1a1a1a" stroke-width="2.8" />
<line x1="1171.5" y1="436.7" x2="1271.5" y2="436.7" stroke="#1a1a1a" stroke-width="2.8" />
<rect x="1210.6" y="405" width="23.2" height="2.6" fill="#1a1a1a" />
<rect x="1218" y="405" width="6.7" height="31" fill="#1a1a1a" />
<line x1="1221.3" y1="436" x2="1221.3" y2="590" stroke="#1a1a1a" stroke-width="1.9" />
<rect x="1192" y="448.8" width="73.5" height="6.4" rx="3.2" fill="none" stroke="#1a1a1a" stroke-width="3.6"/>
<rect x="1192" y="458.7" width="73.5" height="6.4" rx="3.2" fill="none" stroke="#1a1a1a" stroke-width="3.6"/>
<rect x="1192" y="468.6" width="73.5" height="6.4" rx="3.2" fill="none" stroke="#1a1a1a" stroke-width="3.6"/>
<rect x="1192" y="478.5" width="73.5" height="6.4" rx="3.2" fill="none" stroke="#1a1a1a" stroke-width="3.6"/>
<rect x="1192" y="488.4" width="73.5" height="6.4" rx="3.2" fill="none" stroke="#1a1a1a" stroke-width="3.6"/>
<rect x="1192" y="498.3" width="73.5" height="6.4" rx="3.2" fill="none" stroke="#1a1a1a" stroke-width="3.6"/>
<rect x="1192" y="508.2" width="73.5" height="6.4" rx="3.2" fill="none" stroke="#1a1a1a" stroke-width="3.6"/>
<rect x="1192" y="518.1" width="73.5" height="6.4" rx="3.2" fill="none" stroke="#1a1a1a" stroke-width="3.6"/>
<rect x="1192" y="528.0" width="73.5" height="6.4" rx="3.2" fill="none" stroke="#1a1a1a" stroke-width="3.6"/>
<rect x="1192" y="537.9" width="73.5" height="6.4" rx="3.2" fill="none" stroke="#1a1a1a" stroke-width="3.6"/>
<rect x="1192" y="547.8" width="73.5" height="6.4" rx="3.2" fill="none" stroke="#1a1a1a" stroke-width="3.6"/>
<rect x="1179" y="385.4" width="4.6" height="96" fill="#fff" stroke="#1a1a1a" stroke-width="2" />
<rect x="1184.6" y="385.4" width="5" height="150" fill="#fff" stroke="#1a1a1a" stroke-width="2" />
<path d="M1196.8,385.4 L1196.8,440 Q1196.8,446 1192,447.5 M1202.4,385.4 L1202.4,443 Q1202.4,452 1194,454" fill="none" stroke="#1a1a1a" stroke-width="2.2" />
<line x1="1208" y1="572" x2="1208" y2="584" stroke="#1a1a1a" stroke-width="2" />
<line x1="1235" y1="572" x2="1235" y2="584" stroke="#1a1a1a" stroke-width="2" />
<path d="M1234.4,508 C1242,509 1250,503 1257,502.5 C1266,502 1274,503 1281,505 L1281,585 L1243.4,585 C1244.5,575 1244.3,568 1242.5,555 C1240.5,540 1240,525 1234.4,508z" fill="#fff" stroke="#1a1a1a" stroke-width="2.4" />
<ellipse cx="1261.1" cy="532.4" rx="11.2" ry="16.200000000000003" fill="#858585" stroke="#1a1a1a" stroke-width="3.8"/>
<ellipse cx="1261.1" cy="532.4" rx="8.5" ry="13.3" fill="none" stroke="#e8e8e8" stroke-width="0.9"/>
<path d="M1255.6,527.4 q2.5,-2 5.5,-1 q3,-1 5.5,1 q-1.2,5 0,10 q-2.5,2 -5.5,1 q-3,1 -5.5,-1 q1.2,-5 0,-10z" fill="#1a1a1a"/>
<ellipse cx="1262" cy="564.5" rx="6.4" ry="8.2" fill="#7d7d7d" stroke="#1a1a1a" stroke-width="2.6"/>
<path d="M1264.5,561.0 q-4.5,-1 -5,3.5 q0.5,4.5 5,3.5" fill="none" stroke="#1a1a1a" stroke-width="2.4"/>
<line x1="1157.4" y1="585" x2="1283.6" y2="585" stroke="#1a1a1a" stroke-width="3" />
<path d="M1156.3,578.5 L1161.9,578.5 L1161.9,583.3 L1177.8,583.3 L1177.8,590.4 L1179.4,590.4 L1179.4,594.4 L1163,594.4 L1163,590.4 L1159.5,590.4 L1159.5,587.6 L1156.3,587.6z" fill="#1a1a1a" stroke="#1a1a1a" stroke-width="0" />
<rect x="1165.5" y="577.3" width="6.3" height="6.5" rx="1.5" fill="#1a1a1a"/>
<rect x="1167.9" y="579.2" width="1.6" height="3.4" fill="#fff"/>
<rect x="1240" y="586" width="16" height="6" fill="#1a1a1a" />
<rect x="1262" y="587" width="14" height="5" fill="#1a1a1a" />
<path d="M1247.4,390.9 L1295.6,365.9 L1306,365.9" fill="none" stroke="#1a1a1a" stroke-width="2.4" />
<text x="1300.6" y="363.29999999999995" font-size="8.5" text-anchor="middle" fill="#242424" >22</text>
<path d="M1270.5,394.8 L1295.6,384.5 L1306,384.5" fill="none" stroke="#1a1a1a" stroke-width="2.4" />
<text x="1300.6" y="381.9" font-size="8.5" text-anchor="middle" fill="#242424" >20</text>
<path d="M1223.4,432.2 L1294,410 L1306,410" fill="none" stroke="#1a1a1a" stroke-width="2.4" />
<text x="1299" y="407.4" font-size="8.5" text-anchor="middle" fill="#242424" >19</text>
<path d="M1280.8,441 L1294,433.6 L1306,433.6" fill="none" stroke="#1a1a1a" stroke-width="2.4" />
<text x="1299" y="431.0" font-size="8.5" text-anchor="middle" fill="#242424" >15</text>
<path d="M1276.4,464.6 L1294,452.8 L1306,452.8" fill="none" stroke="#1a1a1a" stroke-width="2.4" />
<text x="1299" y="450.2" font-size="8.5" text-anchor="middle" fill="#242424" >14</text>
<path d="M1270.5,483.7 L1294,469 L1306,469" fill="none" stroke="#1a1a1a" stroke-width="2.4" />
<text x="1299" y="466.4" font-size="8.5" text-anchor="middle" fill="#242424" >13</text>
<path d="M1263,500 L1294,482.2 L1306,482.2" fill="none" stroke="#1a1a1a" stroke-width="2.4" />
<text x="1299" y="479.59999999999997" font-size="8.5" text-anchor="middle" fill="#242424" >16</text>
<path d="M1263,533.8 L1292.6,520.5 L1302,520.5" fill="none" stroke="#1a1a1a" stroke-width="2.4" />
<text x="1297.6" y="517.9" font-size="8.5" text-anchor="middle" fill="#242424" >23</text>
<path d="M1263,563.2 L1289.7,547 L1303,547" fill="none" stroke="#1a1a1a" stroke-width="2.4" />
<text x="1294.7" y="544.4" font-size="8.5" text-anchor="middle" fill="#242424" >10</text>
<path d="M1241,586.8 L1257.3,610.4 L1269,610.4" fill="none" stroke="#1a1a1a" stroke-width="2.4" />
<text x="1263" y="607.8" font-size="8.5" text-anchor="middle" fill="#242424" >21</text>
<path d="M1270.5,589.7 L1289.7,610.4 L1306,610.4" fill="none" stroke="#1a1a1a" stroke-width="2.4" />
<text x="1298.5" y="607.8" font-size="8.5" text-anchor="middle" fill="#242424" >18</text>
<circle cx="1220.7" cy="281.8" r="59.2" fill="none" stroke="#1a1a1a" stroke-width="2.6"/>
<circle cx="1220.7" cy="281.8" r="49.6" fill="none" stroke="#1a1a1a" stroke-width="2.6"/>
<path d="M1201.5,267.1 L1248,259.7 Q1253,259.5 1253,264.5 L1251.6,299 Q1251,303 1247,302.4 L1204,294 Q1199.3,293 1199.3,288 L1199.3,272 Q1199.3,268 1201.5,267.1z" fill="none" stroke="#1a1a1a" stroke-width="2.4" />
<ellipse cx="1249.8" cy="283.6" rx="4.2" ry="15.3" fill="none" stroke="#1a1a1a" stroke-width="2.4"/>
<line x1="1157" y1="281.8" x2="1299.4" y2="281.8" stroke="#1a1a1a" stroke-width="2.4" />
<line x1="1220.7" y1="178.7" x2="1220.7" y2="338.2" stroke="#1a1a1a" stroke-width="2.4" />
<circle cx="1220.7" cy="281.8" r="7.4" fill="#1a1a1a"/>
<ellipse cx="1248.3" cy="234.8" rx="9" ry="6.8" fill="#1a1a1a" transform="rotate(30.4 1248.3 234.8)"/>
<ellipse cx="1166.2" cy="281.8" rx="9" ry="6.8" fill="#1a1a1a" transform="rotate(270 1166.2 281.8)"/>
<ellipse cx="1247.4" cy="329.3" rx="9" ry="6.8" fill="#1a1a1a" transform="rotate(150.7 1247.4 329.3)"/>
<circle cx="1197.8" cy="248.7" r="3.9" fill="#1a1a1a"/>
<circle cx="1185.3" cy="265.6" r="3" fill="#fff" stroke="#1a1a1a" stroke-width="2.2"/>
<circle cx="1180.9" cy="281.8" r="4.2" fill="#1a1a1a"/>
<circle cx="1185.3" cy="298" r="3" fill="#fff" stroke="#1a1a1a" stroke-width="2.2"/>
<circle cx="1198.6" cy="315" r="3" fill="#fff" stroke="#1a1a1a" stroke-width="2.2"/>
<circle cx="1242.7" cy="297.3" r="3.4" fill="#1a1a1a"/>
<path d="M1251,311 L1269,326 M1256,313 L1270,325" fill="none" stroke="#1a1a1a" stroke-width="2.4" />
<line x1="1181" y1="178.7" x2="1181" y2="282" stroke="#1a1a1a" stroke-width="2.4" />
<line x1="1175" y1="182.4" x2="1227" y2="182.4" stroke="#1a1a1a" stroke-width="2" />
<path d="M1181,182.4 l6,-2 v4z M1221,182.4 l-6,-2 v4z" fill="#1a1a1a" stroke="#1a1a1a" stroke-width="0" />
<line x1="1186" y1="197" x2="1186" y2="264.7" stroke="#1a1a1a" stroke-width="2.4" />
<line x1="1181" y1="199.9" x2="1227" y2="199.9" stroke="#1a1a1a" stroke-width="2" />
<path d="M1186,199.9 l6,-2 v4z M1221,199.9 l-6,-2 v4z" fill="#1a1a1a" stroke="#1a1a1a" stroke-width="0" />
<line x1="1199" y1="213.6" x2="1199" y2="248.5" stroke="#1a1a1a" stroke-width="2.4" />
<line x1="1187.2" y1="217.3" x2="1232" y2="217.3" stroke="#1a1a1a" stroke-width="2" />
<path d="M1199,217.3 l-6,-2 v4z M1221,217.3 l6,-2 v4z" fill="#1a1a1a" stroke="#1a1a1a" stroke-width="0" />
<text x="1201" y="180.3" font-size="7.5" text-anchor="middle" fill="#242424" >C</text>
<text x="1203.5" y="197.8" font-size="7.5" text-anchor="middle" fill="#242424" >E</text>
<text x="1210" y="215.2" font-size="7.5" text-anchor="middle" fill="#242424" >F</text>
<line x1="1125" y1="248.5" x2="1197" y2="248.5" stroke="#1a1a1a" stroke-width="2.4" />
<line x1="1125" y1="314.5" x2="1197" y2="314.5" stroke="#1a1a1a" stroke-width="2.4" />
<line x1="1127.4" y1="247.2" x2="1127.4" y2="315.8" stroke="#1a1a1a" stroke-width="2.2" />
<path d="M1127.4,248.5 l-2,6 h4z M1127.4,314.5 l-2,-6 h4z" fill="#1a1a1a" stroke="#1a1a1a" stroke-width="0" />
<line x1="1141" y1="264.7" x2="1184.7" y2="264.7" stroke="#1a1a1a" stroke-width="2.4" />
<line x1="1141" y1="298.3" x2="1184.7" y2="298.3" stroke="#1a1a1a" stroke-width="2.4" />
<line x1="1144.9" y1="253.5" x2="1144.9" y2="310.8" stroke="#1a1a1a" stroke-width="2.2" />
<path d="M1144.9,264.7 l-2,-6 h4z M1144.9,298.3 l-2,6 h4z" fill="#1a1a1a" stroke="#1a1a1a" stroke-width="0" />
<text x="1125.3" y="282" font-size="7.5" text-anchor="middle" fill="#242424" transform="rotate(-90 1125.3 282)" >A</text>
<text x="1143" y="282" font-size="7.5" text-anchor="middle" fill="#242424" transform="rotate(-90 1143 282)" >B</text>
<line x1="1222" y1="222.5" x2="1321.8" y2="222.5" stroke="#1a1a1a" stroke-width="2.6" />
<line x1="1229.6" y1="342" x2="1321.8" y2="342" stroke="#1a1a1a" stroke-width="2.6" />
<line x1="1318.4" y1="222.5" x2="1318.4" y2="342" stroke="#1a1a1a" stroke-width="2.4" />
<path d="M1318.4,222.5 l-2.2,7 h4.4z M1318.4,342 l-2.2,-7 h4.4z" fill="#1a1a1a" stroke="#1a1a1a" stroke-width="0" />
<text x="1316" y="282" font-size="7.5" text-anchor="middle" fill="#242424" transform="rotate(-90 1316 282)" >D</text>
<path d="M1297,284.6 A76,76 0 0 1 1275.1,333.4" fill="none" stroke="#1a1a1a" stroke-width="2.2" />
<text x="1288" y="311" font-size="7.5" text-anchor="middle" fill="#242424" transform="rotate(-62 1288 311)" >45</text>
<path d="M1111.2,173.7 L1126.2,173.7 L1186,237.3" fill="none" stroke="#1a1a1a" stroke-width="2.4" />
<text x="1118.7" y="171.29999999999998" font-size="8.5" text-anchor="middle" fill="#242424" >4</text>
<path d="M1111.2,202.4 L1126.2,202.4 L1182.2,264.7" fill="none" stroke="#1a1a1a" stroke-width="2.4" />
<text x="1118.7" y="200.0" font-size="8.5" text-anchor="middle" fill="#242424" >9</text>
<path d="M1111.2,225.3 L1126.2,225.3 L1181,282" fill="none" stroke="#1a1a1a" stroke-width="2.4" />
<text x="1120" y="222.9" font-size="8.5" text-anchor="middle" fill="#242424" >17</text>
<path d="M1111.2,341.4 L1126.2,341.4 L1185.3,298" fill="none" stroke="#1a1a1a" stroke-width="2.4" />
<text x="1118.7" y="339.0" font-size="8.5" text-anchor="middle" fill="#242424" >8</text>
<path d="M1111.2,366.9 L1126.2,366.9 L1198.6,315" fill="none" stroke="#1a1a1a" stroke-width="2.4" />
<text x="1118.7" y="364.5" font-size="8.5" text-anchor="middle" fill="#242424" >2</text>
<path d="M1177.3,366.9 L1194.7,366.9 L1242.7,297.3" fill="none" stroke="#1a1a1a" stroke-width="2.4" />
<text x="1186" y="364.5" font-size="8.5" text-anchor="middle" fill="#242424" >11</text>
<path d="M1220.9,366.9 L1238.3,366.9 L1269.5,327" fill="none" stroke="#1a1a1a" stroke-width="2.4" />
<text x="1230" y="364.5" font-size="8.5" text-anchor="middle" fill="#242424" >10</text>
<path d="M1304.8,200.4 L1288.9,200.4 L1220.7,281.8" fill="none" stroke="#1a1a1a" stroke-width="2.4" />
<text x="1297.4" y="198" font-size="8.5" text-anchor="middle" fill="#242424" >19</text>
<path d="M1304.8,260.5 L1288.9,260.5 L1253,281" fill="none" stroke="#1a1a1a" stroke-width="2.4" />
<text x="1297.4" y="258" font-size="8.5" text-anchor="middle" fill="#242424" >12</text>
<line x1="491.60" y1="635.2" x2="491.60" y2="721.2" stroke="#cdced2" stroke-width="1.5"/>
<line x1="640.50" y1="635.2" x2="640.50" y2="721.2" stroke="#cdced2" stroke-width="1.5"/>
<line x1="736.65" y1="635.2" x2="736.65" y2="721.2" stroke="#cdced2" stroke-width="1.5"/>
<line x1="832.80" y1="635.2" x2="832.80" y2="721.2" stroke="#cdced2" stroke-width="1.5"/>
<line x1="928.95" y1="635.2" x2="928.95" y2="721.2" stroke="#cdced2" stroke-width="1.5"/>
<line x1="1025.10" y1="635.2" x2="1025.10" y2="721.2" stroke="#cdced2" stroke-width="1.5"/>
<line x1="1121.25" y1="635.2" x2="1121.25" y2="721.2" stroke="#cdced2" stroke-width="1.5"/>
<line x1="1217.40" y1="635.2" x2="1217.40" y2="721.2" stroke="#cdced2" stroke-width="1.5"/>
<line x1="1313.55" y1="635.2" x2="1313.55" y2="721.2" stroke="#cdced2" stroke-width="1.5"/>
<line x1="1409.70" y1="635.2" x2="1409.70" y2="721.2" stroke="#cdced2" stroke-width="1.5"/>
<line x1="491" y1="635.9" x2="1411" y2="635.9" stroke="#cdced2" stroke-width="1.5"/>
<line x1="491" y1="665.3" x2="1411" y2="665.3" stroke="#cdced2" stroke-width="1.5"/>
<line x1="491" y1="720.5" x2="1411" y2="720.5" stroke="#cdced2" stroke-width="1.5"/>
<rect x="82.5" y="128.9" width="387.1" height="717.95" fill="none" stroke="#7cb648" stroke-width="2.6"/>
<line x1="130.35" y1="128.9" x2="130.35" y2="846.85" stroke="#7cb648" stroke-width="2.5"/></svg>
</body></html>
